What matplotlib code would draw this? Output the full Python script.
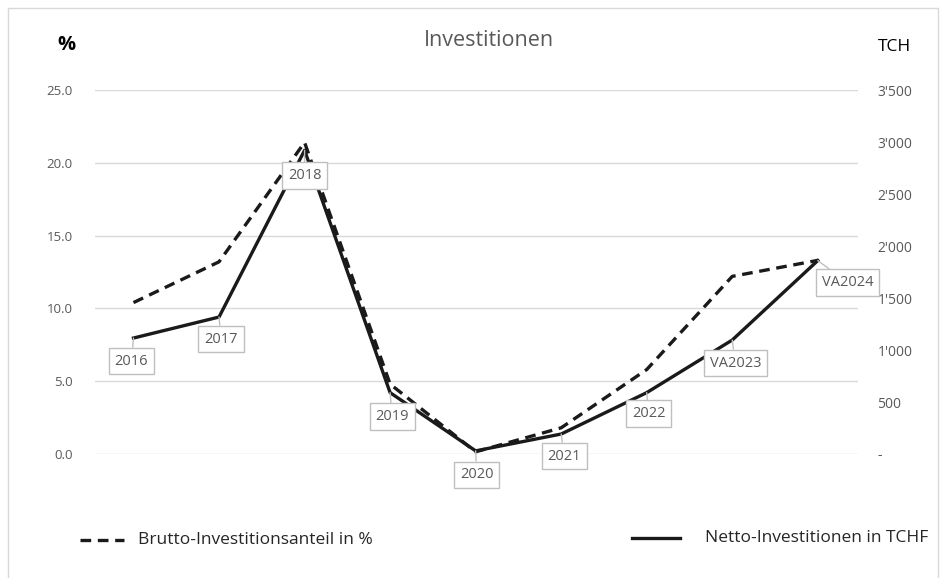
import numpy as np
import matplotlib.pyplot as plt
from matplotlib.lines import Line2D
from matplotlib.patches import Rectangle

plt.rcParams['font.family'] = ['Open Sans', 'DejaVu Sans']

years = ["2016", "2017", "2018", "2019", "2020", "2021", "2022", "VA2023", "VA2024"]
brutto_pct = [10.4, 13.2, 21.4, 4.8, 0.15, 1.8, 5.8, 12.2, 13.3]
netto_tchf = [1115, 1317, 2920, 590, 30, 192, 590, 1096, 1860]

left_ticks = [0, 5, 10, 15, 20, 25]
right_ticks = [0, 500, 1000, 1500, 2000, 2500, 3000, 3500]
right_labels = ["-", "500", "1'000", "1'500", "2'000", "2'500", "3'000", "3'500"]

# label offsets in pixels (box centre relative to the point)
label_offsets = [(-2, -23), (2, -22), (0, -25), (2, -24), (1, -24),
                 (3, -22), (2, -21), (3, -23), (30, -22)]

grey = "#595959"

fig = plt.figure(figsize=(9.46, 5.78), dpi=100)
fig.patches.append(Rectangle((8 / 946, -0.05), (938 - 8) / 946, 1 - 8 / 578 + 0.05,
                             transform=fig.transFigure, fill=False,
                             ec="#d9d9d9", lw=1))

ax1 = fig.add_axes([95 / 946, 1 - 454 / 578, (858 - 95) / 946, (454 - 90) / 578])
ax2 = ax1.twinx()

x = np.arange(len(years))

ax1.plot(x, brutto_pct, color="#1a1a1a", lw=2.4, ls=(0, (3.2, 2.0)), zorder=3)
ax2.plot(x, netto_tchf, color="#1a1a1a", lw=2.4, zorder=2)

for i, lab in enumerate(years):
    ax2.annotate(lab, (x[i], netto_tchf[i]), xytext=label_offsets[i],
                 textcoords="offset pixels", ha="center", va="center",
                 fontsize=10.5, color=grey, zorder=5,
                 bbox=dict(boxstyle="square,pad=0.4", fc="white", ec="#bfbfbf", lw=1),
                 arrowprops=dict(arrowstyle="-", color="#bfbfbf", lw=1,
                                 shrinkA=0, shrinkB=0))

ax1.set_xlim(-0.45, 8.47)
ax1.set_ylim(0, 25)
ax2.set_ylim(0, 3500)

ax1.set_yticks(left_ticks)
ax1.set_yticklabels([f"{v:.1f}" for v in left_ticks])
ax2.set_yticks(right_ticks)
ax2.set_yticklabels(right_labels)
ax1.set_xticks([])

ax1.grid(axis="y", color="#d9d9d9", lw=1)
ax1.set_axisbelow(True)

for a in (ax1, ax2):
    for s in a.spines.values():
        s.set_visible(False)
ax1.tick_params(axis="y", length=0, labelsize=9.5, labelcolor=grey, pad=16)
ax2.tick_params(axis="y", length=0, labelsize=10, labelcolor=grey, pad=14)

fig.text(66 / 946, 1 - 45 / 578, "%", fontsize=14.5, fontweight="bold",
         ha="center", va="center", color="black")
fig.text(894 / 946, 1 - 47 / 578, "TCH", fontsize=12.5,
         ha="center", va="center", color="black")
fig.text(489 / 946, 1 - 40 / 578, "Investitionen", fontsize=15.5,
         ha="center", va="center", color=grey)

# legend
fig.lines.append(Line2D([80 / 946, 124 / 946], [1 - 540 / 578] * 2, transform=fig.transFigure,
                        color="#1a1a1a", lw=2.4, ls=(0, (3.2, 2.0))))
fig.text(138 / 946, 1 - 540 / 578, "Brutto-Investitionsanteil in %", fontsize=12.5,
         ha="left", va="center", color="#262626")
fig.lines.append(Line2D([632 / 946, 680 / 946], [1 - 538 / 578] * 2, transform=fig.transFigure,
                        color="#1a1a1a", lw=2.4))
fig.text(705 / 946, 1 - 538 / 578, "Netto-Investitionen in TCHF", fontsize=12.5,
         ha="left", va="center", color="#262626")

fig.savefig("out.png", dpi=100)
